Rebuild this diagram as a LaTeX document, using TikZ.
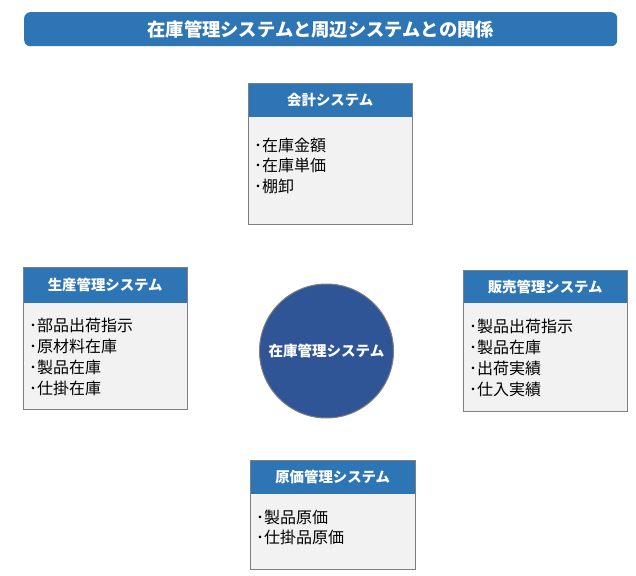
\documentclass[tikz,border=0pt]{standalone}
\usepackage{fontspec}
\newfontfamily\jp{Noto Sans CJK JP}
\definecolor{hdrblue}{HTML}{2E75B6}
\definecolor{circblue}{HTML}{2F5597}
\definecolor{bodygray}{HTML}{F2F2F2}
\definecolor{edgegray}{HTML}{7F7F7F}
\tikzset{
  boxbody/.style={draw=edgegray, fill=bodygray, line width=0.8pt, anchor=north west, inner sep=0pt},
  boxhead/.style={fill=hdrblue, anchor=north west, inner sep=0pt, font=\jp\bfseries\fontsize{14.4}{16}\selectfont, text=white},
  item/.style={anchor=base west, inner sep=0pt, font=\jp\fontsize{16}{18}\selectfont, text=black},
}
\begin{document}
\begin{tikzpicture}[x=1pt,y=-1pt]
\useasboundingbox (0,0) rectangle (636,575);
% title
\node[fill=hdrblue, rounded corners=6pt, minimum width=593pt, minimum height=34pt, inner sep=0pt, anchor=north west,
  font=\jp\bfseries\fontsize{18.3}{20}\selectfont, text=white] (title) at (24,12) {在庫管理システムと周辺システムとの関係};
% top box
\node[boxbody, minimum width=164pt, minimum height=141pt] (kaikei) at (248,83) {};
\node[boxhead, minimum width=163.2pt, minimum height=33pt] (kaikeih) at (248.4,83.4) {会計システム};
\draw[edgegray, line width=0.8pt] (kaikei.north west) rectangle (kaikei.south east);
\node[item] (k1) at (254,151) {･在庫金額};
\node[item] (k2) at (254,171.5) {･在庫単価};
\node[item] (k3) at (254,192) {･棚卸};
% left box
\node[boxbody, minimum width=164pt, minimum height=142pt] (seisan) at (23,267) {};
\node[boxhead, minimum width=163.2pt, minimum height=35pt] (seisanh) at (23.4,267.4) {生産管理システム};
\draw[edgegray, line width=0.8pt] (seisan.north west) rectangle (seisan.south east);
\node[item] (s1) at (29,331) {･部品出荷指示};
\node[item] (s2) at (29,352) {･原材料在庫};
\node[item] (s3) at (29,373) {･製品在庫};
\node[item] (s4) at (29,394) {･仕掛在庫};
% right box
\node[boxbody, minimum width=164pt, minimum height=141pt] (hanbai) at (463,270) {};
\node[boxhead, minimum width=163.2pt, minimum height=32pt] (hanbaih) at (463.4,270.4) {販売管理システム};
\draw[edgegray, line width=0.8pt] (hanbai.north west) rectangle (hanbai.south east);
\node[item] (h1) at (469,332) {･製品出荷指示};
\node[item] (h2) at (469,353) {･製品在庫};
\node[item] (h3) at (469,374) {･出荷実績};
\node[item] (h4) at (469,395) {･仕入実績};
% bottom box
\node[boxbody, minimum width=165pt, minimum height=109pt] (genka) at (250,460) {};
\node[boxhead, minimum width=164.2pt, minimum height=33pt] (genkah) at (250.4,460.4) {原価管理システム};
\draw[edgegray, line width=0.8pt] (genka.north west) rectangle (genka.south east);
\node[item] (g1) at (256,523) {･製品原価};
\node[item] (g2) at (256,543.5) {･仕掛品原価};
% circle
\node[circle, draw=edgegray, line width=1pt, fill=circblue, minimum size=134pt, inner sep=0pt,
  font=\jp\bfseries\fontsize{14.5}{16}\selectfont, text=white] (zaiko) at (326.5,351) {在庫管理システム};
\end{tikzpicture}
\end{document}
